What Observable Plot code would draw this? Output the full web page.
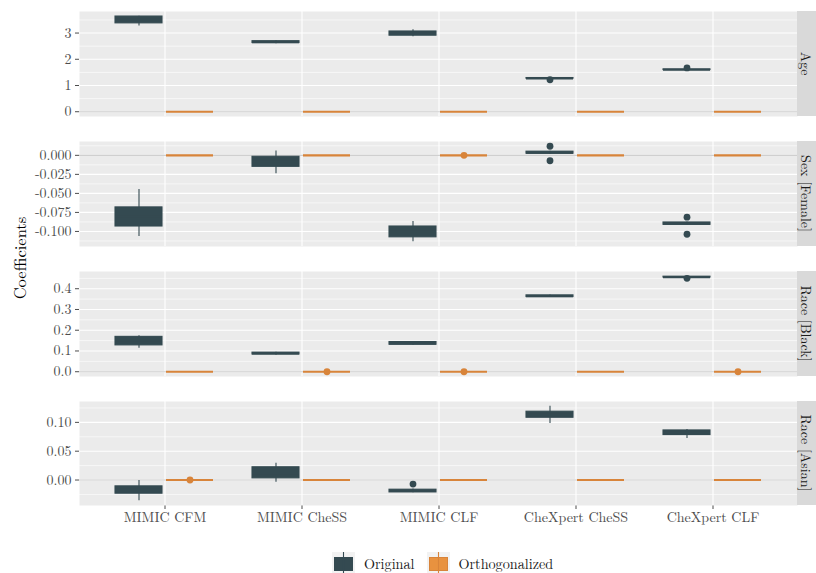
<!DOCTYPE html>
<html>
<head>
<meta charset="utf-8">
<script src="https://cdn.jsdelivr.net/npm/d3@7"></script>
<script src="https://cdn.jsdelivr.net/npm/@observablehq/plot@0.6"></script>
<style>
  html, body { margin: 0; padding: 0; background: #ffffff; }
  #chart { position: relative; width: 816px; height: 573px; font-family: "Latin Modern Roman", "Liberation Serif", serif; overflow: hidden; }
  #panels svg { display: block; }
  #ytitle { position: absolute; left: 19px; top: 258px; transform: translate(-50%, -50%) rotate(-90deg); font-size: 16.5px; color: #000; white-space: nowrap; }
  #legend { position: absolute; left: 332px; top: 552px; height: 22px; display: flex; align-items: center; font-size: 14.2px; color: #1a1a1a; white-space: nowrap; }
  #legend svg { display: block; }
  .lg-item { display: flex; align-items: center; }
</style>
</head>
<body>
<div id="chart">
  <div id="panels"></div>
  <div id="ytitle">Coefficients</div>
  <div id="legend"></div>
</div>
<script>
// ---------- data ----------
const categories = ["MIMIC CFM", "MIMIC CheSS", "MIMIC CLF", "CheXpert CheSS", "CheXpert CLF"];
const groups = ["Original", "Orthogonalized"];
const facetLabels = ["Age", "Sex [Female]", "Race [Black]", "Race [Asian]"];

// Age — Original box statistics per category
const ageOrigLo  = [3.27, 2.59, 2.86, 1.25, 1.58];
const ageOrigQ1  = [3.37, 2.62, 2.90, 1.26, 1.59];
const ageOrigMed = [3.50, 2.65, 2.97, 1.27, 1.60];
const ageOrigQ3  = [3.63, 2.69, 3.06, 1.285, 1.615];
const ageOrigHi  = [3.64, 2.71, 3.13, 1.29, 1.625];
const ageOrigOut = [["CheXpert CheSS", 1.22], ["CheXpert CLF", 1.67]];
// Age — Orthogonalized
const ageOrthBox = [0, 0, 0, 0, 0];
const ageOrthOut = [];

// Sex [Female]
const sexOrigLo  = [-0.1067, -0.0243, -0.1135, 0.0015, -0.0920];
const sexOrigQ1  = [-0.0935, -0.0151, -0.1077, 0.0021, -0.0913];
const sexOrigMed = [-0.0800, -0.0080, -0.1000, 0.0035, -0.0896];
const sexOrigQ3  = [-0.0684, -0.0019, -0.0935, 0.0048, -0.0882];
const sexOrigHi  = [-0.0450, 0.0057, -0.0870, 0.0055, -0.0875];
const sexOrigOut = [["CheXpert CheSS", 0.0119], ["CheXpert CheSS", -0.0071], ["CheXpert CLF", -0.0812], ["CheXpert CLF", -0.1037]];
const sexOrthBox = [0, 0, 0, 0, 0];
const sexOrthOut = [["MIMIC CLF", 0]];

// Race [Black]
const blackOrigLo  = [0.113, 0.080, 0.127, 0.358, 0.453];
const blackOrigQ1  = [0.127, 0.083, 0.130, 0.360, 0.454];
const blackOrigMed = [0.150, 0.088, 0.137, 0.364, 0.456];
const blackOrigQ3  = [0.168, 0.092, 0.143, 0.368, 0.458];
const blackOrigHi  = [0.173, 0.094, 0.146, 0.370, 0.460];
const blackOrigOut = [["CheXpert CLF", 0.450]];
const blackOrthBox = [0, 0, 0, 0, 0];
const blackOrthOut = [["MIMIC CheSS", 0], ["MIMIC CLF", 0], ["CheXpert CLF", 0]];

// Race [Asian]
const asianOrigLo  = [-0.036, -0.004, -0.022, 0.098, 0.072];
const asianOrigQ1  = [-0.0237, 0.0029, -0.0215, 0.108, 0.078];
const asianOrigMed = [-0.017, 0.012, -0.019, 0.113, 0.082];
const asianOrigQ3  = [-0.011, 0.0221, -0.0168, 0.1185, 0.086];
const asianOrigHi  = [-0.001, 0.029, -0.0155, 0.128, 0.0878];
const asianOrigOut = [["MIMIC CLF", -0.007]];
const asianOrthBox = [0, 0, 0, 0, 0];
const asianOrthOut = [["MIMIC CFM", 0]];

// Tick values and labels
const ageTicks = [0, 1, 2, 3];
const ageTickLabels = ["0", "1", "2", "3"];
const sexTicks = [-0.1, -0.075, -0.05, -0.025, 0];
const sexTickLabels = ["-0.100", "-0.075", "-0.050", "-0.025", "0.000"];
const blackTicks = [0, 0.1, 0.2, 0.3, 0.4];
const blackTickLabels = ["0.0", "0.1", "0.2", "0.3", "0.4"];
const asianTicks = [0, 0.05, 0.1];
const asianTickLabels = ["0.00", "0.05", "0.10"];

// ---------- styling ----------
const FONT = "'Latin Modern Roman', 'Liberation Serif', serif";
const colors = {Original: {stroke: "#344a51", fill: "#344a51"}, Orthogonalized: {stroke: "#d8843a", fill: "#e8923f"}};
const dodge = {Original: -26, Orthogonalized: 25};

function buildRows(stats) {
  return categories.map((cat, i) => ({cat, lo: stats.lo[i], q1: stats.q1[i], med: stats.med[i], q3: stats.q3[i], hi: stats.hi[i]}));
}
function buildOut(list) { return list.map(([cat, value]) => ({cat, value})); }

const facets = [
  {label: facetLabels[0], ticks: ageTicks, tickLabels: ageTickLabels,
   orig: {lo: ageOrigLo, q1: ageOrigQ1, med: ageOrigMed, q3: ageOrigQ3, hi: ageOrigHi}, origOut: ageOrigOut,
   orth: {lo: ageOrthBox, q1: ageOrthBox, med: ageOrthBox, q3: ageOrthBox, hi: ageOrthBox}, orthOut: ageOrthOut,
   marginTop: 11, marginBottom: 13, height: 129, showX: false},
  {label: facetLabels[1], ticks: sexTicks, tickLabels: sexTickLabels,
   orig: {lo: sexOrigLo, q1: sexOrigQ1, med: sexOrigMed, q3: sexOrigQ3, hi: sexOrigHi}, origOut: sexOrigOut,
   orth: {lo: sexOrthBox, q1: sexOrthBox, med: sexOrthBox, q3: sexOrthBox, hi: sexOrthBox}, orthOut: sexOrthOut,
   marginTop: 12, marginBottom: 13, height: 130, showX: false},
  {label: facetLabels[2], ticks: blackTicks, tickLabels: blackTickLabels,
   orig: {lo: blackOrigLo, q1: blackOrigQ1, med: blackOrigMed, q3: blackOrigQ3, hi: blackOrigHi}, origOut: blackOrigOut,
   orth: {lo: blackOrthBox, q1: blackOrthBox, med: blackOrthBox, q3: blackOrthBox, hi: blackOrthBox}, orthOut: blackOrthOut,
   marginTop: 12, marginBottom: 13, height: 130, showX: false},
  {label: facetLabels[3], ticks: asianTicks, tickLabels: asianTickLabels,
   orig: {lo: asianOrigLo, q1: asianOrigQ1, med: asianOrigMed, q3: asianOrigQ3, hi: asianOrigHi}, origOut: asianOrigOut,
   orth: {lo: asianOrthBox, q1: asianOrthBox, med: asianOrthBox, q3: asianOrthBox, hi: asianOrthBox}, orthOut: asianOrthOut,
   marginTop: 12, marginBottom: 30, height: 146, showX: true}
];

function stripMark(label) {
  return (index, scales, values, dims) => {
    const g = d3.create("svg:g");
    const x0 = dims.width - dims.marginRight;
    const y0 = dims.marginTop, y1 = dims.height - dims.marginBottom;
    g.append("rect").attr("x", x0).attr("y", y0).attr("width", dims.marginRight).attr("height", y1 - y0).attr("fill", "#d9d9d9");
    g.append("text")
      .attr("transform", `translate(${x0 + dims.marginRight / 2},${(y0 + y1) / 2}) rotate(90)`)
      .attr("text-anchor", "middle").attr("dominant-baseline", "central")
      .attr("fill", "#1a1a1a").attr("font-size", "14px").attr("font-family", FONT)
      .text(label);
    return g.node();
  };
}

const panelsDiv = document.getElementById("panels");

facets.forEach(f => {
  const data = {Original: buildRows(f.orig), Orthogonalized: buildRows(f.orth)};
  const outs = {Original: buildOut(f.origOut), Orthogonalized: buildOut(f.orthOut)};
  const allVals = [];
  groups.forEach(g => {
    data[g].forEach(r => allVals.push(r.lo, r.hi, r.q1, r.q3));
    outs[g].forEach(o => allVals.push(o.value));
  });
  const [mn, mx] = d3.extent(allVals);
  const pad = (mx - mn) * 0.05;
  const domain = [mn - pad, mx + pad];
  const step = f.ticks[1] - f.ticks[0];
  const minor = d3.range(-1, f.ticks.length).map(i => f.ticks[0] + (i + 0.5) * step).filter(v => v > domain[0] && v < domain[1]);

  const marks = [
    Plot.frame({fill: "#ebebeb", stroke: "none"}),
    Plot.ruleY(minor, {stroke: "#ffffff", strokeWidth: 0.6}),
    Plot.ruleY(f.ticks, {stroke: "#ffffff", strokeWidth: 1.1}),
    Plot.ruleX(categories, {stroke: "#ffffff", strokeWidth: 1.1}),
    Plot.ruleY([0], {stroke: "#cfcfcf", strokeWidth: 1.2})
  ];
  groups.forEach(g => {
    const c = colors[g], dx = dodge[g];
    marks.push(
      Plot.ruleX(data[g], {x: "cat", y1: "lo", y2: "hi", stroke: c.stroke, strokeWidth: 1.1, dx}),
      Plot.barY(data[g], {x: "cat", y1: "q1", y2: "q3", fill: c.fill, stroke: c.stroke, strokeWidth: 1.1, dx}),
      Plot.tickY(data[g], {x: "cat", y: "med", stroke: c.stroke, strokeWidth: 2.2, dx}),
      Plot.dot(outs[g], {x: "cat", y: "value", r: 3.4, fill: c.stroke, stroke: "none", dx})
    );
  });
  marks.push(stripMark(f.label));

  const fmt = d => { const i = f.ticks.findIndex(t => Math.abs(t - d) < 1e-9); return i >= 0 ? f.tickLabels[i] : ""; };

  const chart = Plot.plot({
    width: 816,
    height: f.height,
    marginLeft: 79,
    marginRight: 19,
    marginTop: f.marginTop,
    marginBottom: f.marginBottom,
    style: {fontFamily: FONT, fontSize: "14px", color: "#4d4d4d", background: "transparent", overflow: "visible"},
    x: {type: "band", domain: categories, paddingInner: 0.6594, paddingOuter: 0.4312, align: 0.5,
        axis: f.showX ? "bottom" : null, label: null, tickSize: 4, tickPadding: 3},
    y: {domain, ticks: f.ticks, tickFormat: fmt, label: null, tickSize: 4, tickPadding: 4},
    marks
  });
  panelsDiv.appendChild(chart);
});

// ---------- legend ----------
const legend = d3.select("#legend");
groups.forEach((g, i) => {
  const item = legend.append("div").attr("class", "lg-item").style("margin-left", i === 0 ? "0px" : "12px");
  const svg = item.append("svg").attr("width", 23).attr("height", 22);
  svg.append("rect").attr("width", 23).attr("height", 22).attr("fill", "#f2f2f2");
  svg.append("rect").attr("x", 2.5).attr("y", 5.5).attr("width", 18).attr("height", 13).attr("fill", colors[g].fill).attr("stroke", colors[g].stroke).attr("stroke-width", 1);
  svg.append("line").attr("x1", 11.5).attr("x2", 11.5).attr("y1", 0).attr("y2", 22).attr("stroke", colors[g].stroke).attr("stroke-width", 1.1);
  item.append("span").style("margin-left", "9px").text(g);
});
</script>
</body>
</html>
